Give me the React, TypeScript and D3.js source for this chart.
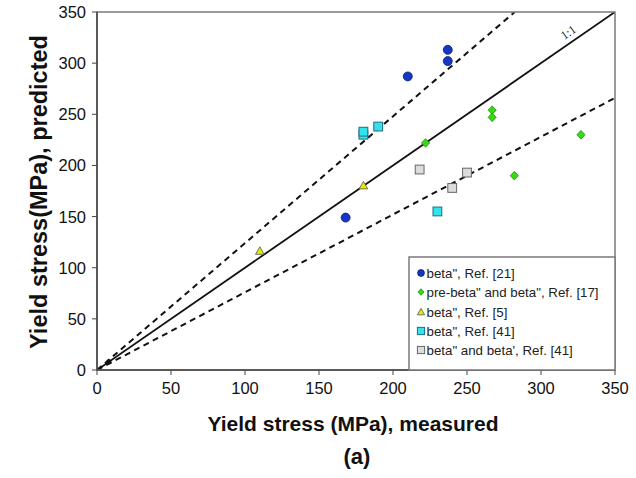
import React from "react";
import * as d3 from "d3";

const xTicks = [0, 50, 100, 150, 200, 250, 300, 350];
const yTicks = [0, 50, 100, 150, 200, 250, 300, 350];

const ref21X = [237, 237, 210, 168];
const ref21Y = [313, 302, 287, 149];
const ref17X = [267, 267, 222, 327, 282];
const ref17Y = [254, 247, 222, 230, 190];
const ref5X = [110, 180];
const ref5Y = [116, 180];
const ref41cX = [180, 180, 190, 230];
const ref41cY = [230, 233, 238, 155];
const ref41gX = [218, 240, 250];
const ref41gY = [196, 178, 193];
const originX = [8];
const originY = [8];

const upperSlope = 1.24;
const lowerSlope = 0.76;

const legendLabels = [
  "beta\", Ref. [21]",
  "pre-beta\" and beta\", Ref. [17]",
  "beta\", Ref. [5]",
  "beta\", Ref. [41]",
  "beta\" and beta', Ref. [41]",
];

const W = 636, H = 478;
const L = 97, R = 615, T = 12, B = 370;

export default function App() {
  const x = d3.scaleLinear().domain([0, 350]).range([L, R]);
  const y = d3.scaleLinear().domain([0, 350]).range([B, T]);
  const font = "Liberation Sans, Arial, sans-serif";
  const frame = "#7a7a7a";

  const line = (pts: [number, number][]) =>
    d3.line<[number, number]>().x((d) => x(d[0])).y((d) => y(d[1]))(pts) || "";

  const circle = (cx: number, cy: number, k: string) => (
    <circle key={k} cx={cx} cy={cy} r={4.5} fill="#1537c4" stroke="#0a1a70" strokeWidth={0.8} />
  );
  const diamond = (cx: number, cy: number, k: string) => (
    <path key={k} d={`M${cx},${cy - 4.3}L${cx + 4.1},${cy}L${cx},${cy + 4.3}L${cx - 4.1},${cy}Z`} fill="#33dd11" stroke="#1a7a0a" strokeWidth={0.7} />
  );
  const triangle = (cx: number, cy: number, k: string) => (
    <path key={k} d={`M${cx},${cy - 4.6}L${cx + 4.3},${cy + 3}L${cx - 4.3},${cy + 3}Z`} fill="#e8e800" stroke="#555" strokeWidth={0.8} />
  );
  const squareC = (cx: number, cy: number, k: string) => (
    <rect key={k} x={cx - 4.4} y={cy - 4.4} width={8.8} height={8.8} fill="#33e3ec" stroke="#236d80" strokeWidth={1} />
  );
  const squareG = (cx: number, cy: number, k: string) => (
    <rect key={k} x={cx - 4.4} y={cy - 4.4} width={8.8} height={8.8} fill="#dcdcdc" stroke="#666" strokeWidth={1} />
  );

  const legendYs = [273, 292, 312, 331, 350];

  const angle = (-Math.atan2(y(0) - y(350), x(350) - x(0)) * 180) / Math.PI;

  return (
    <svg width={W} height={H} style={{ display: "block", position: "absolute", left: 0, top: 0 }}>
      <rect width={W} height={H} fill="#fff" />
      <defs>
        <clipPath id="plotclip">
          <rect x={L} y={T} width={R - L} height={B - T} />
        </clipPath>
      </defs>

      {/* lines */}
      <g clipPath="url(#plotclip)">
        <path d={line([[0, 0], [350, 350]])} stroke="#111" strokeWidth={1.8} fill="none" />
        <path d={line([[0, 0], [350 / upperSlope, 350]])} stroke="#111" strokeWidth={2} strokeDasharray="6,4.5" fill="none" />
        <path d={line([[0, 0], [350, 350 * lowerSlope]])} stroke="#111" strokeWidth={2} strokeDasharray="6,4.5" fill="none" />
      </g>
      <text
        transform={`translate(${x(320)},${y(320) - 7}) rotate(${angle})`}
        fontFamily="Liberation Serif, Times New Roman, serif"
        fontSize={12}
        fill="#222"
        textAnchor="middle"
      >
        1:1
      </text>

      {/* frame */}
      <rect x={L} y={T} width={R - L} height={B - T} fill="none" stroke={frame} strokeWidth={1.5} />
      <line x1={L} x2={R} y1={B} y2={B} stroke="#444" strokeWidth={1.5} />
      <line x1={L} x2={L} y1={T} y2={B} stroke="#444" strokeWidth={1.5} />

      {/* ticks */}
      {xTicks.map((t) => (
        <g key={"x" + t}>
          <line x1={x(t)} x2={x(t)} y1={B} y2={B + 5} stroke="#444" strokeWidth={1} />
          <text x={x(t)} y={B + 24} textAnchor="middle" fontFamily={font} fontSize={16.5} fill="#111">
            {t}
          </text>
        </g>
      ))}
      {yTicks.map((t) => (
        <g key={"y" + t}>
          <line x1={L - 5} x2={L} y1={y(t)} y2={y(t)} stroke="#444" strokeWidth={1} />
          <text x={L - 11} y={y(t) + 6} textAnchor="end" fontFamily={font} fontSize={16.5} fill="#111">
            {t}
          </text>
        </g>
      ))}

      {/* points */}
      {ref21X.map((v, i) => circle(x(v), y(ref21Y[i]), "a" + i))}
      {ref17X.map((v, i) => diamond(x(v), y(ref17Y[i]), "b" + i))}
      {ref5X.map((v, i) => triangle(x(v), y(ref5Y[i]), "c" + i))}
      {ref41cX.map((v, i) => squareC(x(v), y(ref41cY[i]), "d" + i))}
      {ref41gX.map((v, i) => squareG(x(v), y(ref41gY[i]), "e" + i))}
      {originX.map((v, i) => (
        <circle key={"o" + i} cx={x(v)} cy={y(originY[i])} r={2.5} fill="#111" />
      ))}

      {/* legend */}
      <rect x={409} y={257} width={R - 409} height={B - 257} fill="#fff" stroke={frame} strokeWidth={1.5} />
      {legendLabels.map((lab, i) => (
        <g key={"l" + i}>
          {i === 0
            ? <circle cx={421} cy={legendYs[i]} r={3.4} fill="#1537c4" stroke="#0a1a70" strokeWidth={0.8} />
            : i === 1
            ? <path d={`M421,${legendYs[i] - 3.3}L424.1,${legendYs[i]}L421,${legendYs[i] + 3.3}L417.9,${legendYs[i]}Z`} fill="#33dd11" stroke="#1a7a0a" strokeWidth={0.7} />
            : i === 2
            ? <path d={`M421,${legendYs[i] - 3.6}L424.6,${legendYs[i] + 2.8}L417.4,${legendYs[i] + 2.8}Z`} fill="#e8e800" stroke="#555" strokeWidth={0.8} />
            : i === 3
            ? <rect x={417.4} y={legendYs[i] - 3.6} width={7.2} height={7.2} fill="#33e3ec" stroke="#236d80" strokeWidth={1} />
            : <rect x={417.4} y={legendYs[i] - 3.6} width={7.2} height={7.2} fill="#dcdcdc" stroke="#666" strokeWidth={1} />}
          <text x={426.5} y={legendYs[i] + 4.6} fontFamily={font} fontSize={13.3} fill="#222">
            {lab}
          </text>
        </g>
      ))}

      {/* titles */}
      <text x={353} y={431} textAnchor="middle" fontFamily={font} fontSize={21} fontWeight="bold" fill="#111">
        Yield stress (MPa), measured
      </text>
      <text x={357} y={464} textAnchor="middle" fontFamily={font} fontSize={22} fontWeight="bold" fill="#111">
        (a)
      </text>
      <text
        transform={`translate(47,${192}) rotate(-90)`}
        textAnchor="middle"
        fontFamily={font}
        fontSize={23.5}
        fontWeight="bold"
        fill="#111"
      >
        Yield stress(MPa), predicted
      </text>
    </svg>
  );
}
